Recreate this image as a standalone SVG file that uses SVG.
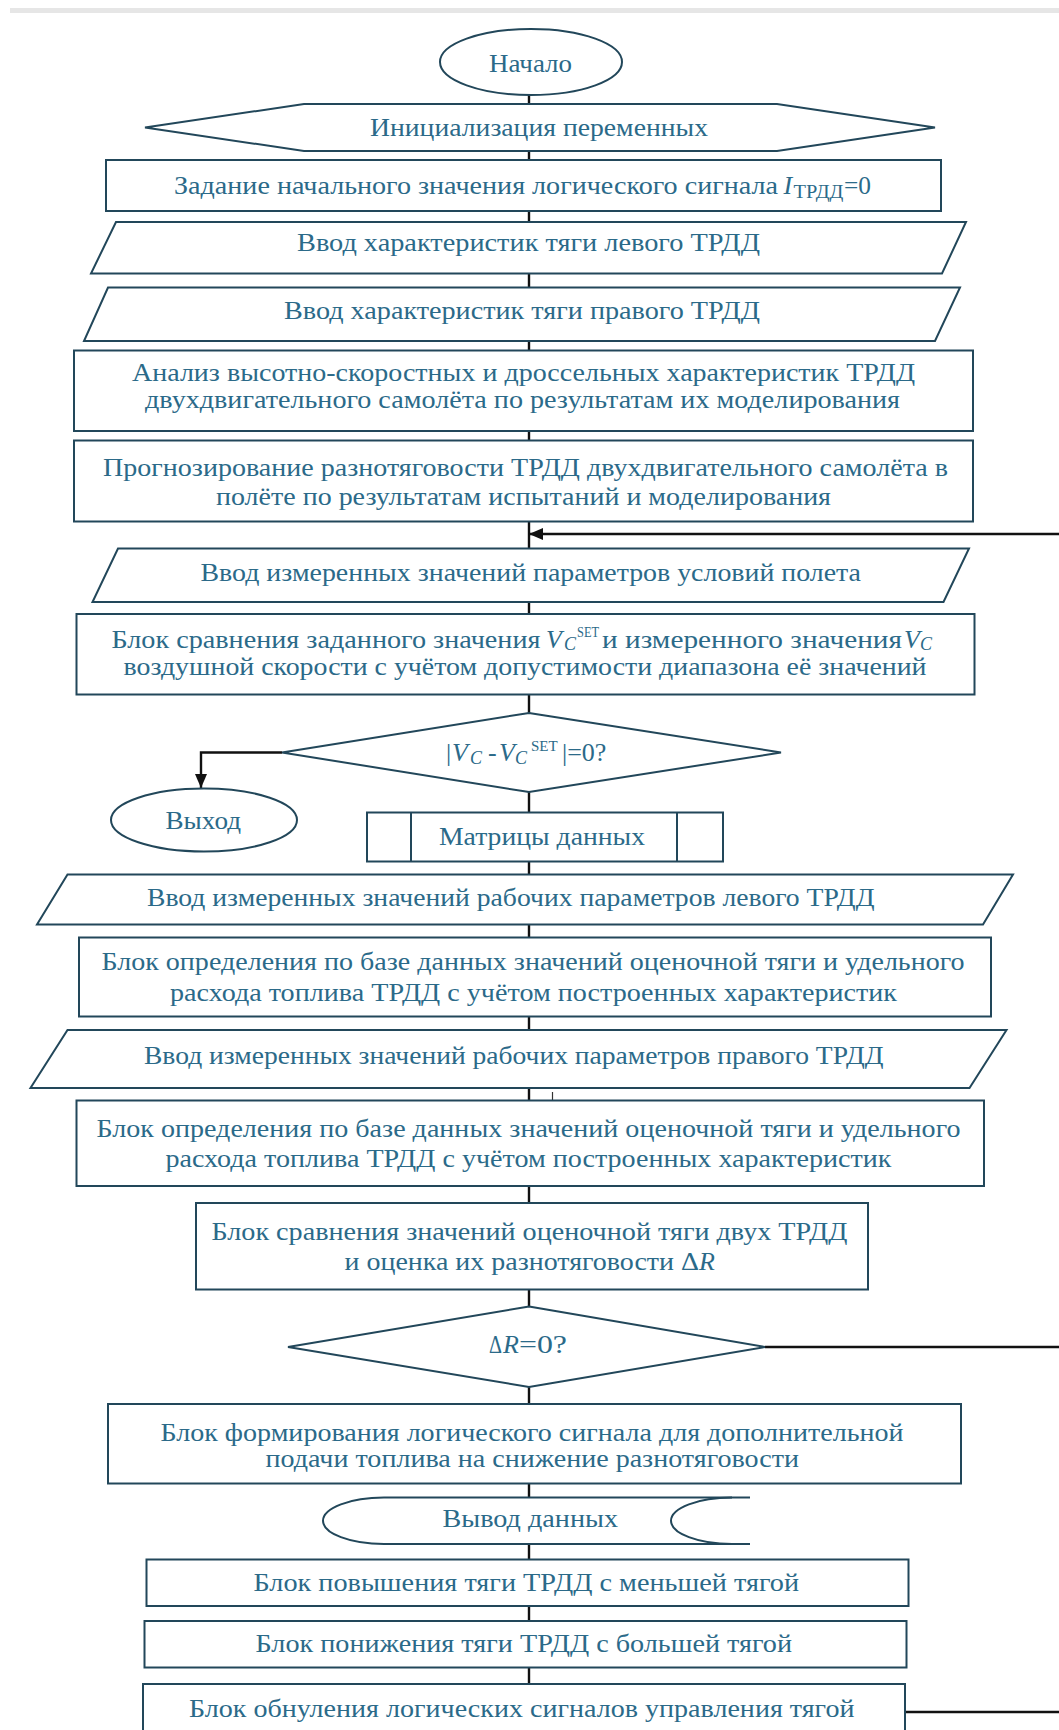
<svg xmlns="http://www.w3.org/2000/svg" width="1059" height="1730" viewBox="0 0 1059 1730">
<defs>
<style>
.s{fill:#fff;stroke:#22475a;stroke-width:2}
.l{fill:none;stroke:#22475a;stroke-width:2}
.c{fill:none;stroke:#111;stroke-width:2.4}
.t{font-family:"Liberation Serif","Times New Roman",serif;font-size:26px;fill:#2b6a89}
.i{font-style:italic}
.sb{font-size:18px}
.sp{font-size:15px}
</style>
<marker id="ah" viewBox="0 0 14 12" refX="14" refY="6" markerWidth="14" markerHeight="12" markerUnits="userSpaceOnUse" orient="auto"><path d="M0,0 L14,6 L0,12 z" fill="#111"/></marker>
</defs>
<rect x="0" y="0" width="1059" height="1730" fill="#fff"/>
<rect x="10" y="8" width="1049" height="5" fill="#e6e6e6"/>

<g id="connectors">
<path class="c" d="M529,95 V104 M529,151 V160 M529,211 V222 M529,273.5 V287.5 M529,341 V350.5 M529,431 V440.5 M529,521.5 V548.5 M529,602 V614 M529,694.5 V713 M529,792 V812.5 M529,861.5 V874.5 M529,924.5 V937.5 M529,1016.5 V1030 M529,1088 V1100.5 M529,1186 V1203 M529,1289.5 V1306.5 M529,1387 V1404 M529,1483.5 V1497.5 M529,1544 V1559.5 M529,1606 V1621 M529,1667.5 V1684"/>
<path class="c" d="M1059,534 H529" marker-end="url(#ah)"/>
<path class="c" d="M282,752.5 H201 V788" marker-end="url(#ah)"/>
<path class="c" d="M765,1347 H1059"/>
<path class="c" d="M905,1712 H1059"/>
<path d="M552.5,1092 V1123" stroke="#333" stroke-width="1.2" fill="none"/>
</g>

<g id="n-start">
<ellipse class="s" cx="531" cy="62" rx="91" ry="33"/>
<text class="t" x="489" y="71.5" textLength="83" lengthAdjust="spacingAndGlyphs">Начало</text>
</g>

<g id="n-init">
<polygon class="s" points="145,127.5 304,104 777,104 935,127.5 777,151 304,151"/>
<text class="t" x="370" y="136" textLength="338" lengthAdjust="spacingAndGlyphs">Инициализация переменных</text>
</g>

<g id="n-set0">
<rect class="s" x="106" y="160" width="835" height="51"/>
<text class="t" x="174" y="194.3" textLength="604" lengthAdjust="spacingAndGlyphs">Задание начального значения логического сигнала</text>
<text class="t i" x="783.5" y="194.3">I</text>
<text class="t sb" x="793.5" y="197.5" textLength="50" lengthAdjust="spacingAndGlyphs">ТРДД</text>
<text class="t" x="844" y="194.3" textLength="27" lengthAdjust="spacingAndGlyphs">=0</text>
</g>

<g id="n-in-left">
<polygon class="s" points="116,222 966,222 942,273.5 91,273.5"/>
<text class="t" x="297" y="250.5" textLength="463" lengthAdjust="spacingAndGlyphs">Ввод характеристик тяги левого ТРДД</text>
</g>

<g id="n-in-right">
<polygon class="s" points="108,287.5 960,287.5 935,341 84,341"/>
<text class="t" x="284" y="318.5" textLength="476" lengthAdjust="spacingAndGlyphs">Ввод характеристик тяги правого ТРДД</text>
</g>

<g id="n-analysis">
<rect class="s" x="74" y="350.5" width="899" height="80.5"/>
<text class="t" x="132" y="380.5" textLength="783" lengthAdjust="spacingAndGlyphs">Анализ высотно-скоростных и дроссельных характеристик ТРДД</text>
<text class="t" x="145" y="408" textLength="755" lengthAdjust="spacingAndGlyphs">двухдвигательного самолёта по результатам их моделирования</text>
</g>

<g id="n-forecast">
<rect class="s" x="74" y="440.5" width="899" height="81"/>
<text class="t" x="103" y="475.5" textLength="845" lengthAdjust="spacingAndGlyphs">Прогнозирование разнотяговости ТРДД двухдвигательного самолёта в</text>
<text class="t" x="216" y="505" textLength="615" lengthAdjust="spacingAndGlyphs">полёте по результатам испытаний и моделирования</text>
</g>

<g id="n-in-flight">
<polygon class="s" points="118,548.5 969,548.5 943.5,602 92.5,602"/>
<text class="t" x="200.5" y="581" textLength="660.5" lengthAdjust="spacingAndGlyphs">Ввод измеренных значений параметров условий полета</text>
</g>

<g id="n-compare-v">
<rect class="s" x="76.5" y="614" width="898" height="80.5"/>
<text class="t" x="111.5" y="647.5" textLength="429" lengthAdjust="spacingAndGlyphs">Блок сравнения заданного значения</text>
<text class="t i" x="546" y="647.5">V</text>
<text class="t i sb" x="564" y="650">C</text>
<text class="t sp" x="577" y="637" textLength="22" lengthAdjust="spacingAndGlyphs">SET</text>
<text class="t" x="602" y="647.5" textLength="300" lengthAdjust="spacingAndGlyphs">и измеренного значения</text>
<text class="t i" x="904" y="647.5">V</text>
<text class="t i sb" x="920" y="650">C</text>
<text class="t" x="123.5" y="675" textLength="803" lengthAdjust="spacingAndGlyphs">воздушной скорости с учётом допустимости диапазона её значений</text>
</g>

<g id="n-dec-v">
<polygon class="s" points="529,713 781,752.5 529,792 282,752.5"/>
<text class="t" x="446" y="761">|<tspan class="i" x="452">V</tspan><tspan class="i sb" x="470" dy="3">C</tspan><tspan x="488" dy="-3">-</tspan><tspan class="i" x="499">V</tspan><tspan class="i sb" x="515" dy="3">C</tspan><tspan class="sp" x="531" dy="-13">SET</tspan><tspan x="562" dy="10">|=0?</tspan></text>
</g>

<g id="n-exit">
<ellipse class="s" cx="204" cy="820" rx="93" ry="31.5"/>
<text class="t" x="165.5" y="829" textLength="75.5" lengthAdjust="spacingAndGlyphs">Выход</text>
</g>

<g id="n-matrix">
<rect class="s" x="367" y="812.5" width="356" height="49"/>
<path class="l" d="M411,812.5 V861.5 M677,812.5 V861.5"/>
<text class="t" x="439" y="844.5" textLength="206" lengthAdjust="spacingAndGlyphs">Матрицы данных</text>
</g>

<g id="n-in-left-op">
<polygon class="s" points="67.5,874.5 1013,874.5 983,924.5 37,924.5"/>
<text class="t" x="147" y="906" textLength="727.5" lengthAdjust="spacingAndGlyphs">Ввод измеренных значений рабочих параметров левого ТРДД</text>
</g>

<g id="n-est-left">
<rect class="s" x="79" y="937.5" width="912" height="79"/>
<text class="t" x="101.5" y="970" textLength="863" lengthAdjust="spacingAndGlyphs">Блок определения по базе данных значений оценочной тяги и удельного</text>
<text class="t" x="170" y="1001" textLength="727" lengthAdjust="spacingAndGlyphs">расхода топлива ТРДД с учётом построенных характеристик</text>
</g>

<g id="n-in-right-op">
<polygon class="s" points="67.5,1030 1006.5,1030 969.5,1088 30.5,1088"/>
<text class="t" x="144" y="1064" textLength="739.5" lengthAdjust="spacingAndGlyphs">Ввод измеренных значений рабочих параметров правого ТРДД</text>
</g>

<g id="n-est-right">
<rect class="s" x="76.5" y="1100.5" width="907.5" height="85.5"/>
<text class="t" x="96.5" y="1137" textLength="864" lengthAdjust="spacingAndGlyphs">Блок определения по базе данных значений оценочной тяги и удельного</text>
<text class="t" x="165.5" y="1167" textLength="726" lengthAdjust="spacingAndGlyphs">расхода топлива ТРДД с учётом построенных характеристик</text>
</g>

<g id="n-compare-r">
<rect class="s" x="196" y="1203" width="672" height="86.5"/>
<text class="t" x="211.5" y="1240" textLength="636" lengthAdjust="spacingAndGlyphs">Блок сравнения значений оценочной тяги двух ТРДД</text>
<text class="t" x="344.5" y="1270" textLength="354.5" lengthAdjust="spacingAndGlyphs">и оценка их разнотяговости Δ</text>
<text class="t i" x="699" y="1270">R</text>
</g>

<g id="n-dec-r">
<polygon class="s" points="529,1306.5 765,1347 529,1387 288,1347"/>
<text class="t" x="489" y="1353" textLength="13" lengthAdjust="spacingAndGlyphs">Δ</text>
<text class="t i" x="503" y="1353">R</text>
<text class="t" x="519" y="1353" textLength="48" lengthAdjust="spacingAndGlyphs">=0?</text>
</g>

<g id="n-signal">
<rect class="s" x="108" y="1404" width="853" height="79.5"/>
<text class="t" x="160.5" y="1441" textLength="743" lengthAdjust="spacingAndGlyphs">Блок формирования логического сигнала для дополнительной</text>
<text class="t" x="265.5" y="1467" textLength="533.5" lengthAdjust="spacingAndGlyphs">подачи топлива на снижение разнотяговости</text>
</g>

<g id="n-output">
<path class="s" d="M750,1497.5 H384 A61,23.25 0 0 0 384,1544 H750"/>
<path class="l" d="M732,1497.5 A61,23.25 0 0 0 732,1544"/>
<text class="t" x="442.5" y="1527" textLength="175.5" lengthAdjust="spacingAndGlyphs">Вывод данных</text>
</g>

<g id="n-increase">
<rect class="s" x="146.5" y="1559.5" width="762" height="46.5"/>
<text class="t" x="253.5" y="1590.5" textLength="545.5" lengthAdjust="spacingAndGlyphs">Блок повышения тяги ТРДД с меньшей тягой</text>
</g>

<g id="n-decrease">
<rect class="s" x="144.5" y="1621" width="762" height="46.5"/>
<text class="t" x="255.5" y="1652" textLength="536.5" lengthAdjust="spacingAndGlyphs">Блок понижения тяги ТРДД с большей тягой</text>
</g>

<g id="n-reset">
<rect class="s" x="143" y="1684" width="762" height="60"/>
<text class="t" x="189" y="1717" textLength="665.5" lengthAdjust="spacingAndGlyphs">Блок обнуления логических сигналов управления тягой</text>
</g>
</svg>
